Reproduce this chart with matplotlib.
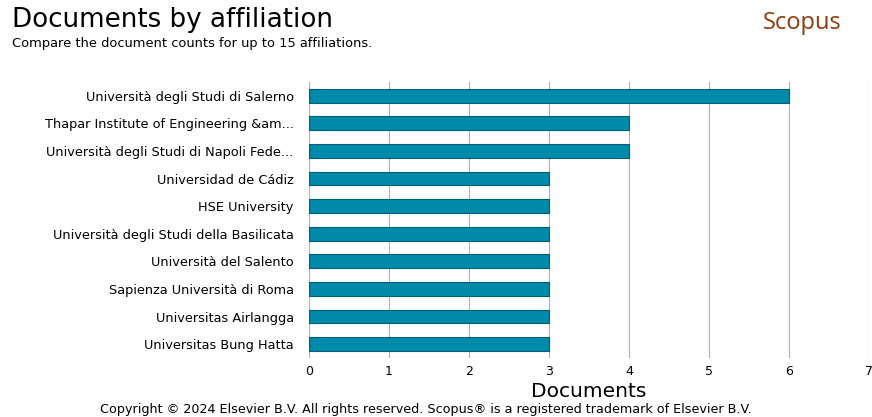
import matplotlib.pyplot as plt

affiliations = [
    'Università degli Studi di Salerno',
    'Thapar Institute of Engineering &am...',
    'Università degli Studi di Napoli Fede...',
    'Universidad de Cádiz',
    'HSE University',
    'Università degli Studi della Basilicata',
    'Università del Salento',
    'Sapienza Università di Roma',
    'Universitas Airlangga',
    'Universitas Bung Hatta',
]
documents = [6, 4, 4, 3, 3, 3, 3, 3, 3, 3]
x_ticks = [0, 1, 2, 3, 4, 5, 6, 7]

fig = plt.figure(figsize=(8.72, 4.17), dpi=100)
ax = fig.add_axes([309 / 872, 1 - 358 / 417, (869 - 309) / 872, (358 - 82) / 417])

ax.barh(range(len(affiliations)), documents, height=0.5,
        color='#0089a8', edgecolor='#005f78', linewidth=0.8, zorder=3)

ax.set_xlim(0, 7)
ax.set_ylim(len(affiliations) - 0.5, -0.5)
ax.set_xticks(x_ticks)
ax.set_yticks(range(len(affiliations)))
ax.set_yticklabels(affiliations, fontsize=9.3)
ax.tick_params(axis='x', labelsize=9, length=0, pad=5)
ax.tick_params(axis='y', length=0, pad=11)
ax.grid(axis='x', color='#b0b0b0', linewidth=0.8, zorder=0)
for s in ax.spines.values():
    s.set_visible(False)

ax.set_xlabel('Documents', fontsize=14.5, labelpad=3)

fig.text(12 / 872, 1 - 20 / 417, 'Documents by affiliation', fontsize=18.8, va='center')
fig.text(12 / 872, 1 - 44 / 417, 'Compare the document counts for up to 15 affiliations.',
         fontsize=9.4, va='center')
fig.text(802 / 872, 1 - 23 / 417, 'Scopus', fontsize=17, color='#8f3a0a',
         family='Open Sans', ha='center', va='center')
fig.text(426 / 872, 1 - 410 / 417,
         'Copyright © 2024 Elsevier B.V. All rights reserved. Scopus® is a registered trademark of Elsevier B.V.',
         fontsize=9.2, ha='center', va='center')

fig.savefig('out.png', dpi=100)
